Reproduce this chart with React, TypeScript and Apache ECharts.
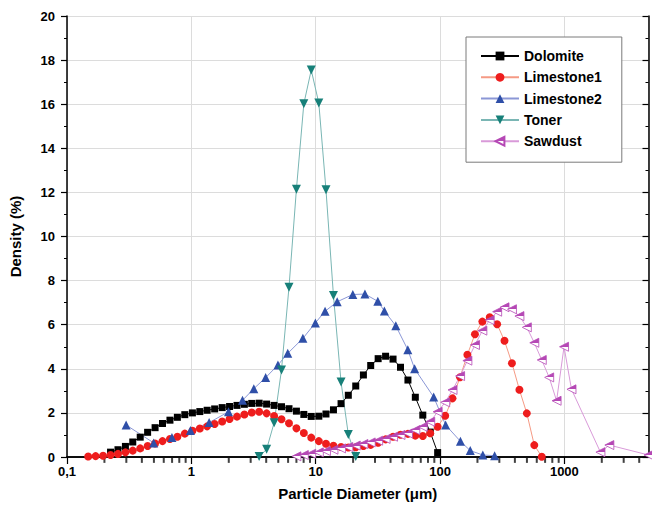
import React, { useEffect, useRef } from 'react';
import * as echarts from 'echarts';

// Particle diameters (µm) and densities (%)
const dolomiteD = [0.224, 0.257, 0.295, 0.338, 0.388, 0.445, 0.511, 0.586, 0.673, 0.772, 0.886, 1.02, 1.17, 1.34, 1.54, 1.77, 2.03, 2.33, 2.67, 3.06, 3.51, 4.03, 4.63, 5.31, 6.10, 7.00, 8.03, 9.21, 10.6, 12.1, 13.9, 16.0, 18.3, 21.0, 24.2, 27.7, 31.8, 36.5, 41.9, 48.1, 55.2, 63.3, 72.7, 83.4, 95.7];
const dolomiteV = [0.22, 0.33, 0.48, 0.68, 0.90, 1.12, 1.33, 1.52, 1.67, 1.80, 1.92, 2.00, 2.06, 2.12, 2.18, 2.24, 2.29, 2.34, 2.39, 2.43, 2.44, 2.40, 2.34, 2.28, 2.19, 2.08, 1.93, 1.84, 1.85, 1.95, 2.14, 2.42, 2.80, 3.22, 3.72, 4.15, 4.46, 4.57, 4.44, 4.07, 3.49, 2.71, 1.90, 1.13, 0.20];

const limestone1D = [0.148, 0.170, 0.195, 0.224, 0.257, 0.295, 0.338, 0.388, 0.445, 0.511, 0.586, 0.673, 0.772, 0.886, 1.02, 1.17, 1.34, 1.54, 1.77, 2.03, 2.33, 2.67, 3.06, 3.51, 4.03, 4.63, 5.31, 6.10, 7.00, 8.03, 9.21, 10.6, 12.1, 13.9, 16.0, 18.3, 21.0, 24.2, 27.7, 31.8, 36.5, 41.9, 48.1, 55.2, 63.3, 72.7, 83.4, 95.7, 110, 126, 145, 166, 191, 219, 251, 288, 330, 379, 435, 499, 573, 658];
const limestone1V = [0.02, 0.04, 0.06, 0.09, 0.14, 0.21, 0.29, 0.39, 0.50, 0.61, 0.72, 0.82, 0.92, 1.06, 1.19, 1.29, 1.39, 1.50, 1.61, 1.72, 1.83, 1.93, 2.02, 2.05, 1.98, 1.86, 1.71, 1.53, 1.30, 1.09, 0.88, 0.72, 0.60, 0.51, 0.45, 0.43, 0.44, 0.50, 0.55, 0.65, 0.80, 0.92, 1.01, 1.05, 0.97, 0.95, 1.08, 1.37, 1.87, 2.66, 3.62, 4.64, 5.57, 6.14, 6.34, 6.02, 5.27, 4.25, 3.05, 1.98, 0.54, 0.01];

const limestone2D = [0.299, 0.498, 0.698, 0.983, 1.39, 1.99, 2.58, 3.18, 3.96, 4.97, 5.96, 7.89, 9.94, 11.9, 14.9, 19.9, 24.9, 31.6, 35.7, 44.1, 55.1, 62.5, 88.9, 111, 146, 175, 221, 275];
const limestone2V = [1.45, 0.64, 0.89, 1.20, 1.56, 2.05, 2.57, 3.10, 3.60, 4.17, 4.70, 5.38, 6.08, 6.61, 7.04, 7.37, 7.39, 7.06, 6.62, 5.95, 4.86, 4.00, 2.72, 1.45, 0.71, 0.29, 0.09, 0.06];

const tonerD = [3.51, 4.03, 4.63, 5.31, 6.10, 7.00, 8.03, 9.21, 10.6, 12.1, 13.9, 16.0, 18.3, 21.0];
const tonerV = [0.02, 0.35, 1.55, 3.95, 7.70, 12.14, 16.02, 17.55, 16.05, 12.12, 7.32, 3.40, 1.02, 0.02];

const sawdustD = [7.00, 8.03, 9.21, 10.6, 12.1, 13.9, 16.0, 18.3, 21.0, 24.2, 27.7, 31.8, 36.5, 41.9, 48.1, 55.2, 63.3, 72.7, 83.4, 95.7, 110, 126, 145, 166, 191, 219, 251, 288, 330, 379, 435, 499, 573, 658, 755, 866, 994, 1141, 1950, 2300, 4750];
const sawdustV = [0.03, 0.09, 0.15, 0.21, 0.27, 0.33, 0.39, 0.45, 0.52, 0.59, 0.66, 0.74, 0.82, 0.92, 1.00, 1.07, 1.22, 1.37, 1.60, 2.05, 2.48, 3.04, 3.67, 4.37, 5.08, 5.73, 6.21, 6.59, 6.79, 6.70, 6.39, 5.88, 5.18, 4.40, 3.61, 2.55, 5.00, 3.07, 0.22, 0.54, 0.09];

// minor tick positions of the log axis (2..9 x each decade)
const xMinorTicks = [0.2, 0.3, 0.4, 0.5, 0.6, 0.7, 0.8, 0.9, 2, 3, 4, 5, 6, 7, 8, 9, 20, 30, 40, 50, 60, 70, 80, 90, 200, 300, 400, 500, 600, 700, 800, 900, 2000, 3000, 4000];

const FONT = "'Liberation Sans', Arial, sans-serif";
const zip = (xs: number[], ys: number[]) => xs.map((x, i) => [x, ys[i]]);

export default function App() {
  const ref = useRef<HTMLDivElement>(null);
  useEffect(() => {
    const chart = echarts.init(ref.current!, null, { renderer: 'svg' });
    const sawFill = new echarts.graphic.LinearGradient(0, 0, 0, 1, [
      { offset: 0, color: '#b548b5' },
      { offset: 0.5, color: '#b548b5' },
      { offset: 0.5, color: '#ffffff' },
      { offset: 1, color: '#ffffff' },
    ]);
    const option: any = {
      animation: false,
      backgroundColor: '#ffffff',
      textStyle: { fontFamily: FONT },
      grid: { left: 66.5, top: 16, width: 582, height: 441 },
      legend: {
        orient: 'vertical',
        left: 466,
        top: 37,
        padding: [11, 20, 13, 14],
        itemWidth: 38,
        itemHeight: 11,
        itemGap: 5.3,
        borderColor: '#7a7a7a',
        borderWidth: 1,
        backgroundColor: '#ffffff',
        textStyle: { fontFamily: FONT, fontWeight: 'bold', fontSize: 14, color: '#000', lineHeight: 16 },
        data: ['Dolomite', 'Limestone1', 'Limestone2', 'Toner', 'Sawdust'],
      },
      xAxis: [
        {
          type: 'log',
          logBase: 10,
          min: 0.1,
          max: 4750,
          name: 'Particle Diameter (\u03bcm)',
          nameLocation: 'middle',
          nameGap: 29,
          nameTextStyle: { fontFamily: FONT, fontWeight: 'bold', fontSize: 15, color: '#000' },
          axisLine: { lineStyle: { color: '#000', width: 1.5 } },
          axisTick: { show: true, length: 7, lineStyle: { color: '#000', width: 1.2 } },
          axisLabel: {
            fontFamily: FONT,
            fontWeight: 'bold',
            fontSize: 13,
            color: '#000',
            margin: 8,
            showMaxLabel: false,
            formatter: (v: number) => (v < 1 ? String(Math.round(v * 10) / 10).replace('.', ',') : String(Math.round(v))),
          },
          splitLine: { show: true, lineStyle: { color: '#dcdcdc', width: 1 } },
        },
        {
          type: 'log',
          logBase: 10,
          min: 0.1,
          max: 4750,
          position: 'top',
          axisLine: { show: true, lineStyle: { color: '#000', width: 1.5 } },
          axisTick: { show: false },
          axisLabel: { show: false },
          splitLine: { show: false },
        },
      ],
      yAxis: [
        {
          type: 'value',
          min: 0,
          max: 20,
          interval: 2,
          name: 'Density (%)',
          nameLocation: 'middle',
          nameGap: 44,
          nameRotate: 90,
          nameTextStyle: { fontFamily: FONT, fontWeight: 'bold', fontSize: 15, color: '#000' },
          axisLine: { show: true, lineStyle: { color: '#000', width: 1.5 } },
          axisTick: { show: true, length: 6, lineStyle: { color: '#000', width: 1.2 } },
          minorTick: { show: true, splitNumber: 2, length: 3, lineStyle: { color: '#000', width: 1 } },
          axisLabel: { fontFamily: FONT, fontWeight: 'bold', fontSize: 13, color: '#000', margin: 12 },
          splitLine: { show: true, lineStyle: { color: '#dcdcdc', width: 1 } },
        },
        {
          type: 'value',
          min: 0,
          max: 20,
          interval: 2,
          position: 'right',
          axisLine: { show: true, lineStyle: { color: '#000', width: 1.5 } },
          axisTick: { show: true, inside: true, length: 6, lineStyle: { color: '#000', width: 1.2 } },
          minorTick: { show: true, splitNumber: 2, length: 3, lineStyle: { color: '#000', width: 1 } },
          axisLabel: { show: false },
          splitLine: { show: false },
        },
      ],
      series: [
        {
          // minor ticks below the log axis, placed by the chart's own scales
          name: 'minorTicks',
          type: 'scatter',
          clip: false,
          data: xMinorTicks.map((v) => [v, -0.13]),
          symbol: 'rect',
          symbolSize: [2, 6],
          itemStyle: { color: '#111111' },
        },
        {
          name: 'Dolomite',
          type: 'line',
          data: zip(dolomiteD, dolomiteV),
          symbol: 'rect',
          symbolSize: 7,
          lineStyle: { color: '#000000', width: 1 },
          itemStyle: { color: '#000000' },
        },
        {
          name: 'Limestone1',
          type: 'line',
          data: zip(limestone1D, limestone1V),
          symbol: 'circle',
          symbolSize: 8,
          lineStyle: { color: '#f59a84', width: 1 },
          itemStyle: { color: '#ee1d1d' },
        },
        {
          name: 'Limestone2',
          type: 'line',
          data: zip(limestone2D, limestone2V),
          symbol: 'triangle',
          symbolSize: 9,
          lineStyle: { color: '#8b97d6', width: 1 },
          itemStyle: { color: '#2f4fa8' },
        },
        {
          name: 'Toner',
          type: 'line',
          data: zip(tonerD, tonerV),
          symbol: 'triangle',
          symbolRotate: 180,
          symbolSize: 9,
          lineStyle: { color: '#7ab6b4', width: 1 },
          itemStyle: { color: '#178079' },
        },
        {
          name: 'Sawdust',
          type: 'line',
          data: zip(sawdustD, sawdustV),
          symbol: 'path://M0,5L10,0L10,10Z',
          symbolSize: [9, 9],
          lineStyle: { color: '#d99ad9', width: 1 },
          itemStyle: { color: sawFill, borderColor: '#b548b5', borderWidth: 0.8 },
        },
      ],
    };
    chart.setOption(option);
    return () => chart.dispose();
  }, []);
  return (
    <div
      ref={ref}
      style={{ position: 'fixed', left: 0, top: 0, width: 652, height: 511, background: '#fff' }}
    />
  );
}
